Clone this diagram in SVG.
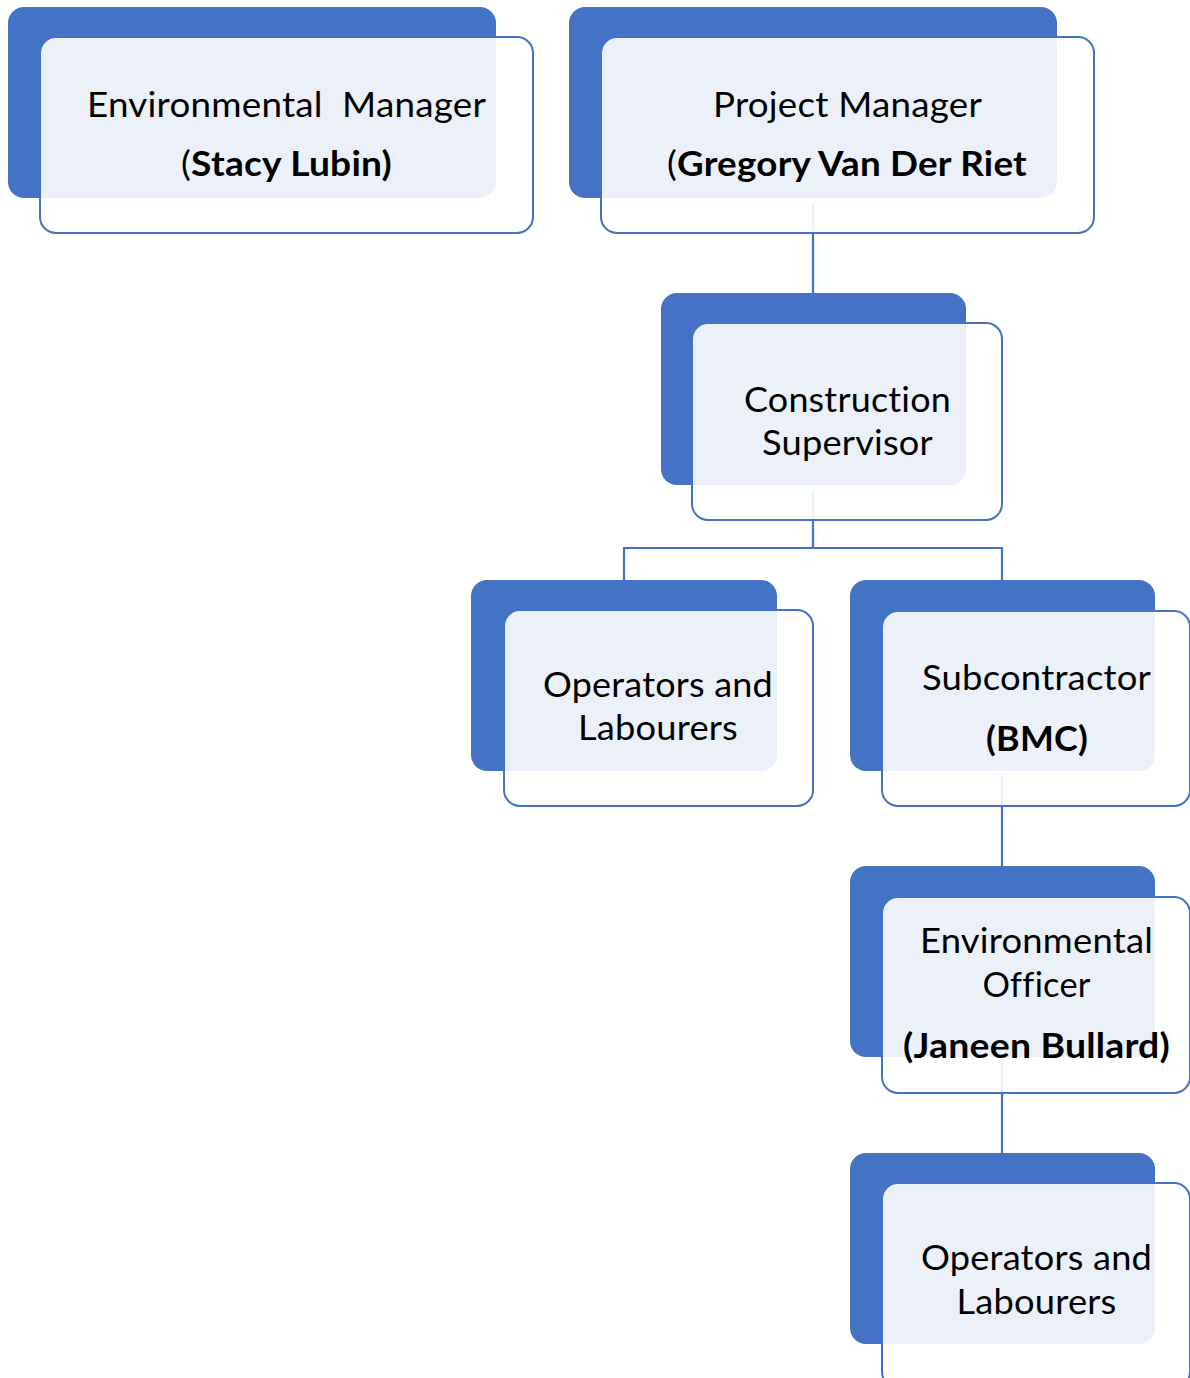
<svg xmlns="http://www.w3.org/2000/svg" width="1190" height="1378" viewBox="0 0 1190 1378">
<style>
.back{fill:#4472C4}
.front{fill:#FFFFFF;fill-opacity:0.9;stroke:#4472C4;stroke-width:2}
.conn{fill:none;stroke:#4472C4;stroke-width:2.2}
text{font-family:Lato,"Liberation Sans",sans-serif;font-size:34px;fill:#000;text-anchor:middle;font-variant-ligatures:none;font-feature-settings:"liga" 0,"clig" 0;letter-spacing:0.2px}
.b{font-weight:bold}
</style>
<rect width="1190" height="1378" fill="#fff"/>
<g id="connectors">
<path class="conn" d="M813 203V293"/>
<path class="conn" d="M813 490V548M624 580V548H1002V580"/>
<path class="conn" d="M1002 776V866"/>
<path class="conn" d="M1002 1063V1153"/>
</g>
<g id="env-manager">
<rect class="back" x="8" y="7" width="488" height="191" rx="16"/>
<rect class="front" x="40" y="37" width="493" height="196" rx="16"/>
<text x="286.5" y="117" textLength="399" lengthAdjust="spacingAndGlyphs" xml:space="preserve">Environmental  Manager</text>
<text x="286.5" y="176" textLength="211" lengthAdjust="spacingAndGlyphs">(<tspan class="b">Stacy Lubin)</tspan></text>
</g>
<g id="project-manager">
<rect class="back" x="569" y="7" width="488" height="191" rx="16"/>
<rect class="front" x="601" y="37" width="493" height="196" rx="16"/>
<text x="847.5" y="117" textLength="269" lengthAdjust="spacingAndGlyphs">Project Manager</text>
<text x="847" y="176" textLength="360" lengthAdjust="spacingAndGlyphs">(<tspan class="b">Gregory Van Der Riet</tspan></text>
</g>
<g id="construction-supervisor">
<rect class="back" x="661" y="293" width="305" height="192" rx="16"/>
<rect class="front" x="692" y="323" width="310" height="197" rx="16"/>
<text x="847.5" y="412" textLength="207" lengthAdjust="spacingAndGlyphs">Construction</text>
<text x="847.5" y="455" textLength="171" lengthAdjust="spacingAndGlyphs">Supervisor</text>
</g>
<g id="operators-1">
<rect class="back" x="471" y="580" width="306" height="191" rx="16"/>
<rect class="front" x="504" y="610" width="309" height="196" rx="16"/>
<text x="658" y="697" textLength="230" lengthAdjust="spacingAndGlyphs">Operators and</text>
<text x="658" y="740" textLength="160" lengthAdjust="spacingAndGlyphs">Labourers</text>
</g>
<g id="subcontractor">
<rect class="back" x="850" y="580" width="305" height="191" rx="16"/>
<rect class="front" x="882" y="611" width="308" height="195" rx="16"/>
<text x="1036.5" y="690" textLength="229" lengthAdjust="spacingAndGlyphs">Subcontractor</text>
<text class="b" x="1037" y="751" textLength="102" lengthAdjust="spacingAndGlyphs">(BMC)</text>
</g>
<g id="env-officer">
<rect class="back" x="850" y="866" width="305" height="191" rx="16"/>
<rect class="front" x="882" y="897" width="308" height="196" rx="16"/>
<text x="1036.5" y="953" textLength="233" lengthAdjust="spacingAndGlyphs">Environmental</text>
<text x="1036.5" y="997" textLength="108" lengthAdjust="spacingAndGlyphs">Officer</text>
<text class="b" x="1036.5" y="1058" textLength="267" lengthAdjust="spacingAndGlyphs">(Janeen Bullard)</text>
</g>
<g id="operators-2">
<rect class="back" x="850" y="1153" width="305" height="191" rx="16"/>
<rect class="front" x="882" y="1183" width="308" height="205" rx="16"/>
<text x="1036.5" y="1270" textLength="231" lengthAdjust="spacingAndGlyphs">Operators and</text>
<text x="1036.5" y="1314" textLength="160" lengthAdjust="spacingAndGlyphs">Labourers</text>
</g>
</svg>
